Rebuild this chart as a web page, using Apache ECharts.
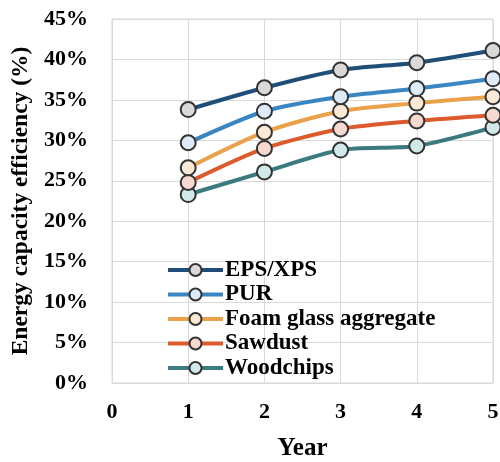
<!DOCTYPE html>
<html><head><meta charset="utf-8">
<script src="https://cdn.jsdelivr.net/npm/echarts@6/dist/echarts.min.js"></script>
<style>html,body{margin:0;padding:0;background:#fff}#c{width:500px;height:462px}</style>
</head><body><div id="c"></div>
<script>
const years = [1, 2, 3, 4, 5];
const seriesNames = ['EPS/XPS', 'PUR', 'Foam glass aggregate', 'Sawdust', 'Woodchips'];
const epsXps = [33.8, 36.5, 38.7, 39.6, 41.1];
const pur = [29.7, 33.6, 35.4, 36.4, 37.6];
const foamGlass = [26.6, 31.0, 33.6, 34.6, 35.4];
const sawdust = [24.8, 29.0, 31.4, 32.4, 33.1];
const woodchips = [23.3, 26.1, 28.8, 29.3, 31.6];
const yTicks = [0, 5, 10, 15, 20, 25, 30, 35, 40, 45];

const lineColors = ['#1f4e79', '#3a86c2', '#eba04a', '#dc5a2c', '#3b7b80'];
const fillColors = ['#d9d9d9', '#dcebf7', '#fbe9d6', '#f7d9d0', '#d2e9ea'];
const values = [epsXps, pur, foamGlass, sawdust, woodchips];
const font = '"Liberation Serif", "Times New Roman", serif';

const chart = echarts.init(document.getElementById('c'), null, {renderer: 'canvas'});
chart.setOption({
  animation: false,
  backgroundColor: '#fff',
  grid: {left: 112, right: 7, top: 19, bottom: 79, show: true, borderColor: '#d9d9d9', borderWidth: 1,
    outerBoundsMode: 'none', containLabel: false},
  legend: seriesNames.map((n, i) => ({
    orient: 'vertical', left: 166, top: 258.5 + i * 24.5, itemWidth: 55, itemHeight: 15, padding: 0,
    data: [n],
    lineStyle: {width: 4},
    textStyle: {fontFamily: font, fontWeight: 'bold', fontSize: 23, color: '#000', padding: [0, 0, 0, -3]}
  })),
  xAxis: {
    type: 'value', min: 0, max: 5, interval: 1,
    name: 'Year', nameLocation: 'middle', nameGap: 53,
    nameTextStyle: {fontFamily: font, fontWeight: 'bold', fontSize: 25, color: '#000'},
    axisLine: {show: false}, axisTick: {show: false},
    splitLine: {show: true, lineStyle: {color: '#d9d9d9', width: 1}},
    axisLabel: {fontFamily: font, fontWeight: 'bold', fontSize: 22, color: '#000', margin: 18}
  },
  yAxis: {
    type: 'value', min: 0, max: 45, interval: 5,
    name: 'Energy capacity efficiency (%)', nameLocation: 'middle', nameGap: 77,
    nameTextStyle: {fontFamily: font, fontWeight: 'bold', fontSize: 23.5, color: '#000'},
    axisLine: {show: false}, axisTick: {show: false},
    splitLine: {show: true, lineStyle: {color: '#d9d9d9', width: 1}},
    axisLabel: {fontFamily: font, fontWeight: 'bold', fontSize: 22, color: '#000', margin: 24,
      formatter: v => yTicks.includes(v) ? v + '%' : ''}
  },
  series: seriesNames.map((n, i) => ({
    name: n, type: 'line', smooth: 0.25,
    data: years.map((y, j) => [y, values[i][j]]),
    lineStyle: {color: lineColors[i], width: 4},
    symbol: 'circle', symbolSize: 15,
    itemStyle: {color: fillColors[i], borderColor: '#333', borderWidth: 2},
    z: 10 - i
  }))
});
</script></body></html>
